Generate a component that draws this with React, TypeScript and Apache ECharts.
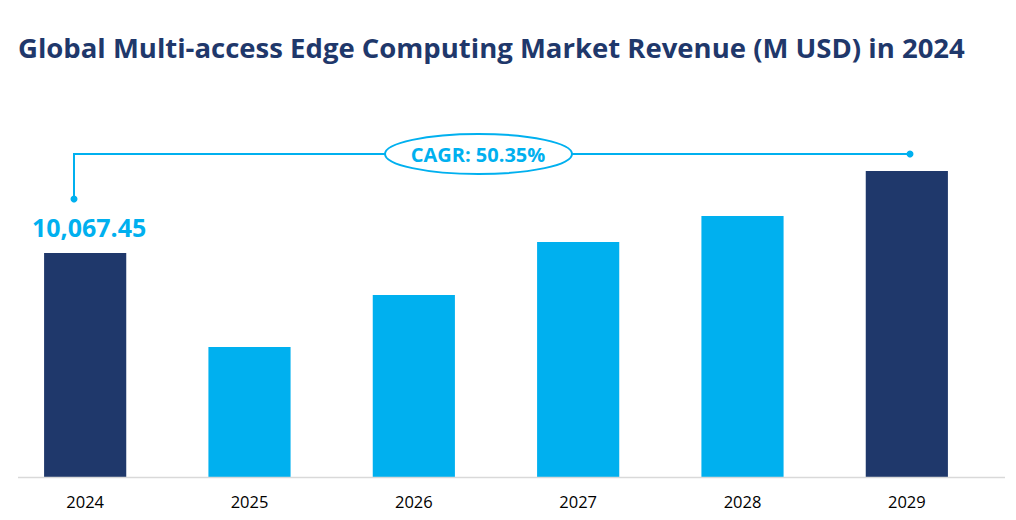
import React, { useEffect, useRef } from "react";
import * as echarts from "echarts";

const TITLE = "Global Multi-access Edge Computing Market Revenue (M USD) in 2024";
const years = ["2024", "2025", "2026", "2027", "2028", "2029"];
const revenue = [10067.45, 5843, 8179, 10561, 11730, 13752];
const highlight = [true, false, false, false, false, true];
const CAGR_TEXT = "CAGR: 50.35%";

const NAVY = "#1F386B";
const BLUE = "#00B0EF";

export default function App() {
  const ref = useRef<HTMLDivElement>(null);
  useEffect(() => {
    if (!ref.current) return;
    const chart = echarts.init(ref.current, undefined, { renderer: "svg" });
    chart.setOption({
      animation: false,
      backgroundColor: "#ffffff",
      grid: { left: 3, right: 27, top: 32, bottom: 43, containLabel: false },
      xAxis: {
        type: "category",
        data: years,
        axisLine: { show: false },
        axisTick: { show: false },
        axisLabel: {
          color: "#000",
          fontSize: 16.5,
          fontFamily: "Open Sans",
          margin: 16,
        },
      },
      yAxis: {
        type: "value",
        min: 0,
        max: 20000,
        show: false,
        splitLine: { show: false },
      },
      graphic: [
        {
          type: "text",
          left: 18,
          top: 33,
          style: {
            text: TITLE,
            fill: NAVY,
            font: "bold 27.5px 'Open Sans'",
          },
        },
        {
          type: "line",
          shape: { x1: 18, y1: 477.5, x2: 1005, y2: 477.5 },
          style: { stroke: "#D9D9D9", lineWidth: 1.5 },
          z: 20,
        },
        {
          type: "polyline",
          shape: { points: [[74, 199], [74, 154], [910, 154]] },
          style: { stroke: BLUE, lineWidth: 2, fill: null },
        },
        { type: "circle", shape: { cx: 74, cy: 199, r: 3.5 }, style: { fill: BLUE } },
        { type: "circle", shape: { cx: 910, cy: 154, r: 3.5 }, style: { fill: BLUE } },
        {
          type: "ellipse",
          shape: { cx: 478.5, cy: 154, rx: 93.5, ry: 20 },
          style: { fill: "#fff", stroke: BLUE, lineWidth: 2 },
          z: 10,
        },
        {
          type: "text",
          x: 478,
          y: 154,
          z: 11,
          style: {
            text: CAGR_TEXT,
            fill: BLUE,
            font: "bold 20px 'Open Sans'",
            align: "center",
            verticalAlign: "middle",
          },
        },
      ],
      series: [
        {
          type: "bar",
          barWidth: "50%",
          data: revenue.map((v, i) => ({
            value: v,
            itemStyle: { color: highlight[i] ? NAVY : BLUE },
            label:
              i === 0
                ? {
                    show: true,
                    position: "top",
                    distance: 13,
                    offset: [4, 0],
                    formatter: () => v.toLocaleString("en-US", { minimumFractionDigits: 2 }),
                    color: BLUE,
                    fontSize: 25,
                    fontWeight: "bold",
                    fontFamily: "Open Sans",
                  }
                : { show: false },
          })),
        },
      ],
    });
    return () => chart.dispose();
  }, []);
  return (
    <div
      ref={ref}
      style={{ position: "fixed", left: 0, top: 0, width: 1016, height: 520 }}
    />
  );
}
